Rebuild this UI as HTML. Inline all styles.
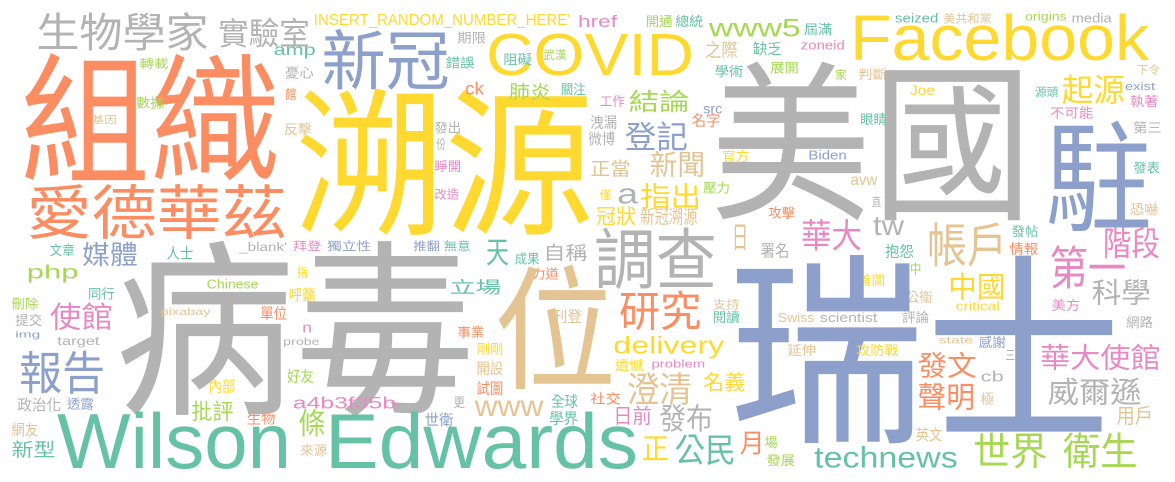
<!DOCTYPE html>
<html><head><meta charset="utf-8">
<style>
html,body{margin:0;padding:0;background:#fff;}
svg{display:block;}
text{font-family:"Liberation Sans","Noto Sans CJK TC",sans-serif;}
</style></head>
<body>
<svg id="cloud" width="1175" height="482" viewBox="0 0 1175 482" xmlns="http://www.w3.org/2000/svg">
<rect width="1175" height="482" fill="#ffffff"/>
</svg>
<script>
// palette keys
const palette = {O:"#fc8d62",G:"#66c2a5",B:"#8da0cb",P:"#e78ac3",L:"#a6d854",Y:"#ffd92f",T:"#e5c494",S:"#b3b3b3"};
// zoom frames: origin x, origin y, horizontal scale
const frames = {0:[0,0,1],1:[0,0,2.613],2:[575,0,2.613],3:[0,241,2.613],4:[575,241,2.613],5:[0,0,3],6:[875,0,3]};
// words: [text, colour, type]
const words = [
["生物學家","S","c"],["實驗室","S","c"],["INSERT_RANDOM_NUMBER_HERE'","Y","a"],["新冠","B","c"],["amp","G","x"],
["組織","O","c"],["溯源","Y","c"],["COVID","Y","a"],["href","P","a"],["期限","S","c"],["轉載","L","c"],["憂心","S","c"],
["錯誤","G","c"],["阻礙","G","c"],["武漢","L","c"],["ck","O","a"],["肺炎","L","c"],["館","O","c"],["關注","G","c"],
["數據","L","c"],["基因","T","c"],["反擊","T","c"],["發出","S","c"],["份","S","c"],["睜開","P","c"],["改造","P","c"],
["愛德華茲","O","c"],["開通","L","c"],["總統","G","c"],["www5","L","a"],["屆滿","G","c"],["Facebook","Y","a"],
["seized","G","a"],["美共和黨","T","c"],["origins","L","a"],["media","S","a"],["之際","T","c"],["缺乏","G","c"],
["zoneid","P","a"],["學術","G","c"],["展開","L","c"],["家","L","c"],["判斷","T","c"],["美國","S","c"],["下令","T","c"],
["起源","Y","c"],["exist","B","a"],["Joe","Y","a"],["源頭","G","c"],["執著","P","c"],["不可能","P","c"],["第三","S","c"],
["駐","B","c"],["發表","G","c"],["恐嚇","T","c"],["發帖","G","c"],["階段","P","c"],["帳戶","T","c"],["tw","S","a"],
["日","T","c"],["華大","P","c"],["調查","S","c"],["工作","P","c"],["結論","L","c"],["src","B","x"],["名字","O","c"],
["眼睛","G","c"],["洩漏","S","c"],["微博","S","c"],["登記","B","c"],["官方","Y","c"],["Biden","B","a"],["正當","T","c"],
["新聞","T","c"],["a","S","x"],["指出","Y","c"],["壓力","L","c"],["avw","T","x"],["直","S","c"],["僅","Y","c"],
["冠狀","Y","c"],["新冠溯源","T","c"],["攻擊","O","c"],
["文章","G","c"],["媒體","B","c"],["人士","G","c"],["_blank'","S","a"],["拜登","P","c"],["獨立性","B","c"],["推翻","B","c"],
["無意","G","c"],["天","G","c"],["自稱","S","c"],["成果","G","c"],["php","L","a"],["病毒","S","c"],["指","Y","c"],
["力道","O","c"],["Chinese","L","a"],["立場","G","c"],["位","T","c"],["同行","G","c"],["呼籲","Y","c"],["刪除","L","c"],
["使館","P","c"],["提交","S","c"],["pixabay","T","a"],["單位","O","c"],["刊登","T","c"],["img","B","a"],["n","P","x"],
["事業","O","c"],["target","S","a"],["probe","S","a"],["剛剛","Y","c"],["報告","B","c"],["好友","L","c"],["開設","T","c"],
["內部","Y","c"],["試圖","O","c"],["政治化","S","c"],["透露","B","c"],["批評","L","c"],["a4b3f35b","P","a"],["更","S","c"],
["全球","G","c"],["www","T","x"],["網友","T","c"],["生物","O","c"],["條","L","c"],["世衛","B","c"],["學界","G","c"],
["新型","G","c"],["Wilson","G","a"],["Edwards","G","a"],["來源","T","c"],
["署名","S","c"],["抱怨","G","c"],["情報","O","c"],["中","L","c"],["首圖","Y","c"],["第一","P","c"],["中國","Y","c"],
["科學","S","c"],["研究","O","c"],["支持","T","c"],["公衛","T","c"],["美方","P","c"],["critical","Y","a"],["瑞士","B","c"],
["閱讀","G","c"],["Swiss","T","a"],["scientist","S","a"],["評論","S","c"],["網路","S","c"],["delivery","Y","a"],["state","T","a"],
["感謝","B","c"],["延伸","T","c"],["攻防戰","Y","c"],["三","S","c"],["發文","O","c"],["華大使館","P","c"],["遺憾","Y","c"],
["problem","P","a"],["澄清","T","c"],["名義","Y","c"],["cb","S","a"],["聲明","O","c"],["威爾遜","S","c"],["社交","O","c"],
["極","T","c"],["日前","P","c"],["發布","S","c"],["用戶","T","c"],["英文","T","c"],["正","Y","c"],["公民","G","c"],
["月","O","c"],["場","L","c"],["世界","L","c"],["衛生","L","c"],["technews","G","a"],["發展","L","c"]
];
// layout boxes (frame, x0, y0, x1, y1) in the order of words
const layout = [
[1,95,40,545,150],[1,570,55,810,140],[1,820,40,1490,75],[1,840,90,1175,265],[1,715,140,825,165],
[5,60,165,840,545],[0,295,90,594,233],[0,486,32,694,75],[0,578,15,617,27],[1,1195,95,1270,130],[1,365,175,440,205],[1,745,200,820,235],
[1,1165,170,1240,205],[1,1315,160,1390,195],[1,1420,150,1480,180],[1,1215,245,1265,283],[1,1330,250,1440,300],[1,745,265,775,300],[1,1465,250,1530,285],
[1,355,290,430,325],[1,240,345,305,372],[1,742,370,815,405],[1,1135,365,1205,400],[1,1140,415,1165,450],[1,1135,480,1205,515],[1,1135,565,1200,598],
[5,80,555,860,715],[2,185,45,255,80],[2,262,45,335,80],[2,350,55,590,110],[2,598,70,672,105],[0,850,13,1149,60],
[6,60,40,190,68],[6,205,40,350,70],[6,450,35,575,62],[6,590,40,710,68],[2,340,125,425,175],[2,465,125,540,165],
[2,590,120,705,148],[2,365,195,440,230],[2,510,185,585,220],[2,680,210,710,240],[2,740,205,815,240],[0,710,64,1033,218],[6,785,195,855,225],
[6,560,225,750,310],[6,750,245,840,270],[6,105,255,180,285],[6,480,260,550,290],[6,765,285,850,320],[6,525,320,655,355],[6,775,365,860,400],
[0,1045,122,1152,230],[6,775,485,855,520],[6,765,610,850,645],[6,410,675,490,710],[0,1103,228,1160,258],[0,927,223,1007,266],[0,873,215,904,235],
[0,732,223,748,250],[0,801,220,862,250],[0,594,228,717,288],[2,65,285,130,320],[2,140,270,300,335],[2,335,318,385,340],[2,305,340,380,380],
[2,745,340,815,375],[2,40,345,110,385],[2,35,395,105,435],[2,130,365,295,450],[2,385,450,455,485],[2,610,450,710,478],[2,40,480,145,530],
[2,195,455,340,530],[2,110,565,165,610],[2,170,550,330,625],[2,335,545,405,580],[2,720,530,790,555],[2,775,590,800,620],[2,65,570,95,600],
[2,55,620,160,675],[2,170,625,320,675],[2,505,620,575,655],
[3,130,10,195,45],[3,215,5,360,75],[3,435,15,505,55],[3,625,3,750,30],[3,765,0,840,30],[3,855,0,970,30],[3,1080,0,1150,30],
[3,1160,0,1230,30],[0,486,238,509,265],[3,1420,10,1535,60],[3,1345,35,1410,70],[3,70,70,205,112],[0,115,243,475,413],[3,775,75,805,110],
[3,1390,80,1460,115],[3,540,115,675,143],[3,1175,115,1310,160],[0,494,267,616,388],[3,230,140,300,175],[3,755,140,825,180],[3,30,170,100,205],
[3,130,185,295,265],[3,40,220,110,255],[3,420,200,550,222],[3,680,195,750,235],[3,1445,205,1520,245],[3,40,270,105,290],[3,790,252,815,275],
[3,1195,255,1265,290],[3,150,285,260,312],[3,740,290,835,312],[3,1245,305,1315,340],[3,50,330,275,455],[3,750,385,820,425],[3,1245,360,1315,400],
[3,545,415,615,455],[3,1245,420,1315,460],[3,45,470,160,510],[3,175,470,245,505],[3,500,480,610,540],[3,765,465,1035,502],[3,1185,465,1215,500],
[3,1440,460,1510,500],[3,1240,478,1420,525],[3,30,545,100,585],[3,645,515,720,550],[3,780,505,850,585],[3,1110,515,1185,555],[3,1435,510,1510,550],
[3,30,600,145,650],[0,57,411,291,468],[0,325,411,638,468],[3,785,610,855,645],
[4,485,5,560,50],[4,810,10,885,50],[4,1135,5,1210,40],[4,875,65,905,100],[4,740,100,810,135],[4,1240,15,1440,140],[4,975,95,1125,175],
[4,1350,115,1505,190],[4,115,150,330,265],[4,360,175,430,205],[4,865,150,935,185],[4,1245,175,1320,210],[4,995,180,1110,208],[0,728,257,1122,441],
[4,360,210,430,245],[4,530,215,625,243],[4,640,215,790,243],[4,855,210,925,245],[4,1440,225,1510,260],[4,100,285,390,338],[4,950,285,1040,308],
[4,1055,285,1125,320],[4,555,310,630,345],[4,735,310,845,345],[4,1125,325,1150,360],[4,895,335,1050,410],[4,1215,310,1530,385],[4,105,355,180,390],
[4,200,355,340,380],[4,135,395,305,490],[4,335,395,445,450],[4,1060,390,1120,422],[4,895,425,1045,505],[4,1235,410,1480,490],[4,40,455,120,490],
[4,1060,455,1095,490],[4,100,495,200,550],[4,220,490,360,570],[4,1415,495,1510,550],[4,890,560,960,600],[4,175,580,245,660],[4,260,580,420,670],
[4,430,570,495,640],[4,495,585,530,620],[4,1040,575,1235,680],[4,1275,575,1470,680],[4,625,615,1000,680],[4,500,640,575,675]
];
const svg = document.getElementById('cloud');
const NS = "http://www.w3.org/2000/svg";
words.forEach(function(w, i){
  const L = layout[i]; if(!L) return;
  const f = frames[L[0]];
  const x0 = f[0] + L[1]/f[2], x1 = f[0] + L[3]/f[2];
  const vs = L[0]===0 ? 1 : 3;
  const y0 = f[1] + L[2]/vs, y1 = f[1] + L[4]/vs;
  const h = y1 - y0;
  let fs, base;
  if (w[2]==='c'){ fs = h/0.9; base = y1 - 0.07*fs; }
  else if (w[2]==='a'){ fs = h/0.73; base = y1; }
  else { fs = h/0.53; base = y1; }
  const t = document.createElementNS(NS,'text');
  t.setAttribute('x', x0.toFixed(1));
  t.setAttribute('y', base.toFixed(1));
  t.setAttribute('font-size', fs.toFixed(1));
  t.setAttribute('fill', palette[w[1]]);
  t.setAttribute('textLength', Math.max(4, x1-x0).toFixed(1));
  t.setAttribute('lengthAdjust', 'spacingAndGlyphs');
  t.textContent = w[0];
  
  
  svg.appendChild(t);
});
</script>
</body></html>
